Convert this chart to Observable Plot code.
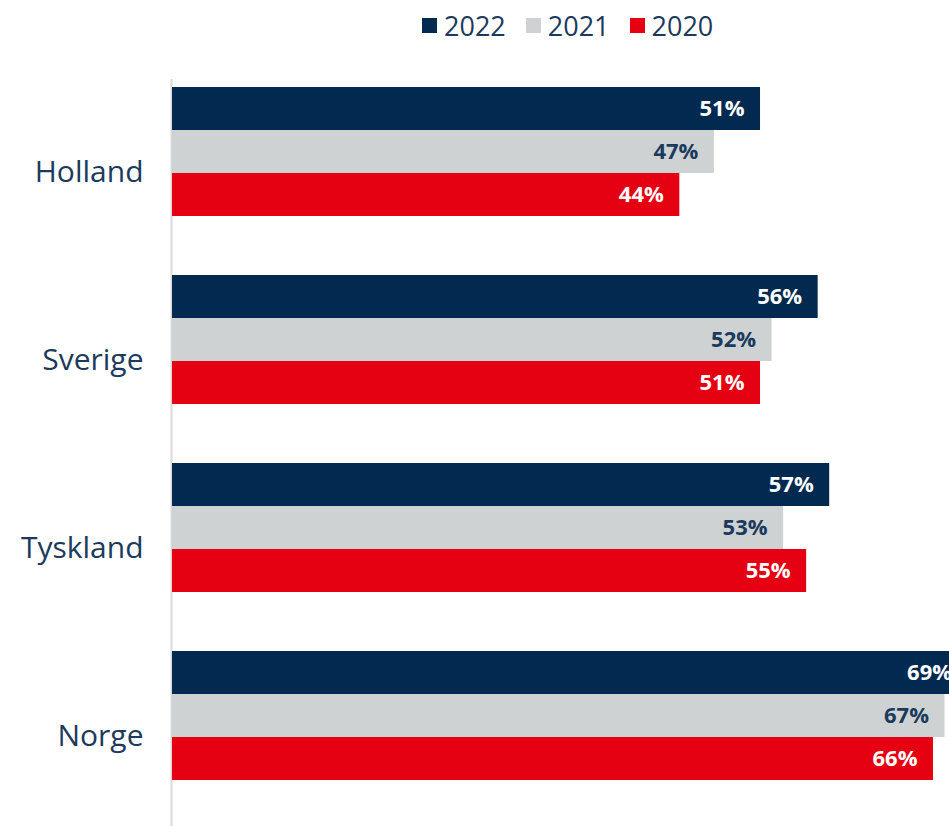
<!DOCTYPE html>
<html>
<head>
<meta charset="utf-8">
<script src="https://cdn.jsdelivr.net/npm/d3@7"></script>
<script src="https://cdn.jsdelivr.net/npm/@observablehq/plot@0.6"></script>
<style>
  html, body { margin: 0; padding: 0; background: #fff; overflow: hidden; }
  body { width: 949px; height: 826px; font-family: "Open Sans", sans-serif; }
  #legend { height: 50px; display: flex; align-items: center; padding-left: 422px; box-sizing: border-box; }
  .item { display: flex; align-items: center; margin-right: 20px; font-size: 27px; color: #1b3a5c; }
  .sw { width: 15px; height: 15px; margin-right: 7px; }
  #chart svg { display: block; }
</style>
</head>
<body>
<div id="legend"></div>
<div id="chart"></div>
<script>
const countries = ["Holland", "Sverige", "Tyskland", "Norge"];
const years = ["2022", "2021", "2020"];
const v2022 = [51, 56, 57, 69];
const v2021 = [47, 52, 53, 67];
const v2020 = [44, 51, 55, 66];
const barColors = ["#022a50", "#cfd2d3", "#e50012"];
const labelColors = ["#ffffff", "#1b3a5c", "#ffffff"];

const series = [v2022, v2021, v2020];
const rows = [];
countries.forEach((c, i) => {
  years.forEach((y, j) => {
    rows.push({country: c, year: y, value: series[j][i]});
  });
});

// legend
const legend = document.getElementById("legend");
years.forEach((y, j) => {
  const it = document.createElement("div");
  it.className = "item";
  const sw = document.createElement("div");
  sw.className = "sw";
  sw.style.background = barColors[j];
  const tx = document.createElement("span");
  tx.textContent = y;
  it.appendChild(sw);
  it.appendChild(tx);
  legend.appendChild(it);
});

const chart = Plot.plot({
  width: 949,
  height: 776,
  marginLeft: 172,
  marginRight: 0,
  marginTop: 35,
  marginBottom: 44,
  style: {fontFamily: "Open Sans, sans-serif", background: "#fff", overflow: "hidden"},
  facet: {data: rows, y: "country", marginTop: 0, marginBottom: 0, marginLeft: 0, marginRight: 0},
  fy: {domain: countries, paddingInner: 0.3057, paddingOuter: 0, axis: null, label: null},
  y: {domain: years, padding: 0, axis: null, label: null},
  x: {domain: [0, 67.39], axis: null, label: null},
  color: {domain: years, range: barColors},
  marks: [
    Plot.ruleX(rows, Plot.selectFirst({x: () => 0, filter: d => d.country === countries[0], stroke: "#d9d9d9", strokeWidth: 2, dx: -1, insetTop: -7, insetBottom: -620})),
    Plot.barX(rows, {x: "value", y: "year", fill: "year", clip: true}),
    Plot.text(rows, {
      x: "value", y: "year", text: d => d.value + "%",
      textAnchor: "end", dx: -16, fontSize: 22, fontWeight: "bold",
      fill: d => labelColors[years.indexOf(d.year)], clip: true
    }),
    Plot.text(rows, Plot.selectFirst({
      text: "country", frameAnchor: "left", textAnchor: "end", dx: -29, dy: 20,
      fontSize: 30, fill: "#1b3a5c"
    }))
  ]
});
document.getElementById("chart").appendChild(chart);
</script>
</body>
</html>
